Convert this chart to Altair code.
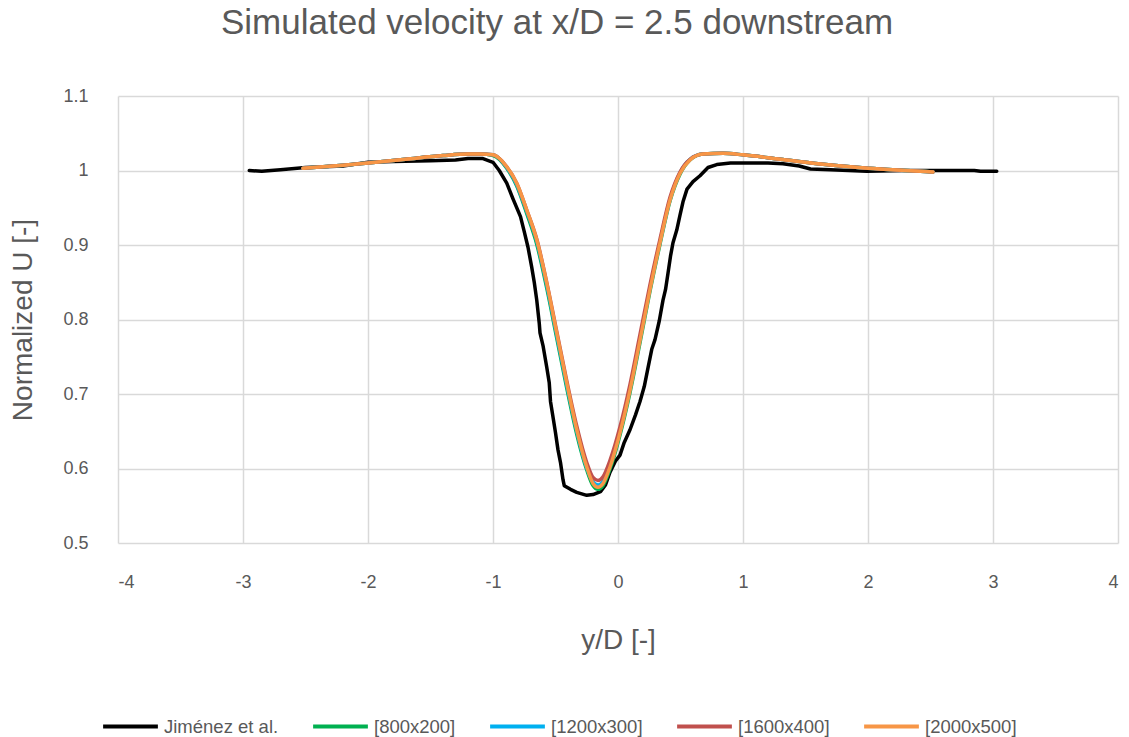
import altair as alt
import pandas as pd

# Experimental reference profile (Jiménez et al.)
EXP_Y_D = [-2.95, -2.85, -2.7, -2.5, -2.2, -2.0, -1.8, -1.5, -1.3, -1.2, -1.08, -1.0,
           -0.95, -0.89, -0.84, -0.78, -0.75, -0.72, -0.69, -0.67, -0.65, -0.63, -0.624,
           -0.6, -0.57, -0.55, -0.54, -0.52, -0.5, -0.48, -0.46, -0.44, -0.43, -0.38,
           -0.33, -0.25, -0.2, -0.14, -0.1, -0.064, -0.02, 0.016, 0.05, 0.096, 0.14,
           0.176, 0.21, 0.24, 0.27, 0.296, 0.33, 0.36, 0.38, 0.4, 0.42, 0.44, 0.47,
           0.496, 0.52, 0.552, 0.6, 0.656, 0.72, 0.79, 0.9, 1.0, 1.2, 1.32, 1.45, 1.54,
           1.7, 1.99, 2.3, 2.6, 2.85, 2.9, 3.03]
EXP_U = [1.000, 0.999, 1.001, 1.004, 1.006, 1.011, 1.012, 1.013, 1.014, 1.016, 1.016, 1.011,
         1.000, 0.983, 0.962, 0.938, 0.918, 0.897, 0.870, 0.850, 0.826, 0.795, 0.782,
         0.765, 0.736, 0.715, 0.690, 0.669, 0.648, 0.625, 0.608, 0.585, 0.577, 0.572,
         0.568, 0.564, 0.565, 0.569, 0.578, 0.595, 0.610, 0.618, 0.635, 0.652, 0.672,
         0.690, 0.710, 0.735, 0.760, 0.773, 0.798, 0.826, 0.840, 0.862, 0.885, 0.903, 0.920,
         0.940, 0.958, 0.975, 0.985, 0.993, 1.004, 1.008, 1.010, 1.010, 1.010, 1.009, 1.006, 1.002,
         1.001, 0.999, 1.000, 1.000, 1.000, 0.999, 0.999]

# Simulated profiles for the four mesh resolutions
SIM_Y_D = [-2.52, -2.2, -2.0, -1.7, -1.4, -1.2, -1.1, -1.0, -0.89, -0.81, -0.73, -0.65,
           -0.57, -0.49, -0.41, -0.33, -0.25, -0.2, -0.16, -0.12, -0.064, 0.016, 0.096,
           0.176, 0.256, 0.336, 0.416, 0.496, 0.576, 0.68, 0.84, 1.0, 1.3, 1.6, 2.0, 2.3, 2.52]
U_800 = [1.003, 1.007, 1.010, 1.015, 1.020, 1.022, 1.022, 1.020, 1.003, 0.979, 0.942, 0.901,
         0.842, 0.775, 0.708, 0.646, 0.598, 0.577, 0.572, 0.577, 0.599, 0.645, 0.702,
         0.769, 0.838, 0.901, 0.959, 0.995, 1.014, 1.022, 1.023, 1.021, 1.015, 1.009, 1.003, 1.000, 0.998]
U_1200 = [1.003, 1.007, 1.010, 1.015, 1.020, 1.022, 1.022, 1.021, 1.004, 0.981, 0.945, 0.905,
          0.846, 0.779, 0.712, 0.650, 0.601, 0.582, 0.578, 0.583, 0.604, 0.650, 0.707,
          0.774, 0.842, 0.904, 0.961, 0.997, 1.015, 1.022, 1.023, 1.021, 1.015, 1.009, 1.003, 1.000, 0.998]
U_1600 = [1.003, 1.007, 1.010, 1.015, 1.020, 1.022, 1.022, 1.021, 1.005, 0.983, 0.947, 0.908,
          0.850, 0.784, 0.718, 0.657, 0.608, 0.588, 0.584, 0.589, 0.611, 0.656, 0.713,
          0.780, 0.847, 0.908, 0.964, 0.998, 1.015, 1.022, 1.023, 1.021, 1.015, 1.009, 1.003, 1.000, 0.998]
U_2000 = [1.003, 1.007, 1.010, 1.015, 1.020, 1.022, 1.022, 1.021, 1.005, 0.983, 0.947, 0.907,
          0.849, 0.782, 0.715, 0.652, 0.602, 0.580, 0.575, 0.580, 0.602, 0.648, 0.705,
          0.772, 0.840, 0.903, 0.960, 0.996, 1.014, 1.022, 1.023, 1.021, 1.015, 1.009, 1.003, 1.000, 0.998]

SERIES = ["Jiménez et al.", "[800x200]", "[1200x300]", "[1600x400]", "[2000x500]"]
COLORS = ["#000000", "#00B050", "#00B0F0", "#C0504D", "#F79646"]

frames = [pd.DataFrame({"y_d": EXP_Y_D, "u": EXP_U, "series": SERIES[0]})]
for name, vals in zip(SERIES[1:], [U_800, U_1200, U_1600, U_2000]):
    frames.append(pd.DataFrame({"y_d": SIM_Y_D, "u": vals, "series": name}))
data = pd.concat(frames, ignore_index=True)

FONT = "Liberation Sans"
GREY = "#595959"

color = alt.Color(
    "series:N",
    scale=alt.Scale(domain=SERIES, range=COLORS),
    legend=alt.Legend(
        title=None, orient="none", direction="horizontal",
        legendX=-17, legendY=601,
        symbolType="stroke", symbolSize=3000, symbolStrokeWidth=4,
        labelFont=FONT, labelFontSize=18.5, labelColor=GREY,
        labelOffset=4, columnPadding=26, labelLimit=300, padding=0,
    ),
)

x = alt.X(
    "y_d:Q",
    title="y/D [-]",
    scale=alt.Scale(domain=[-4, 4], nice=False),
    axis=alt.Axis(
        values=[-4, -3, -2, -1, 0, 1, 2, 3, 4],
        labelExpr="datum.value < 0 ? '-' + abs(datum.value) : '' + datum.value",
        labelPadding=30, titleX=500, titleY=97, titleBaseline="middle", titleAlign="center",
    ),
)
y = alt.Y(
    "u:Q",
    title="Normalized U [-]",
    scale=alt.Scale(domain=[0.5, 1.1], nice=False, zero=False),
    axis=alt.Axis(
        values=[0.5, 0.6, 0.7, 0.8, 0.9, 1.0, 1.1], format="~g",
        labelPadding=30, titleX=-95, titleY=223.5, titleBaseline="middle",
        titleAlign="center", titleAngle=270,
    ),
)

layers = []
for name in SERIES:
    interp = "linear" if name == SERIES[0] else "monotone"
    layers.append(
        alt.Chart(data)
        .transform_filter(alt.datum.series == name)
        .mark_line(strokeWidth=3.5, interpolate=interp, strokeCap="round", strokeJoin="round")
        .encode(x=x, y=y, color=color, order="y_d:Q")
    )

chart = (
    alt.layer(*layers)
    .properties(
        width=1000, height=447,
        title=alt.TitleParams(
            "Simulated velocity at x/D = 2.5 downstream",
            font=FONT, fontSize=35, fontWeight="normal", color=GREY,
            anchor="middle", dx=-61, offset=46,
        ),
        autosize=alt.AutoSizeParams(type="none"),
        padding={"left": 118, "top": 96, "right": 11, "bottom": 194},
    )
    .configure_view(stroke=None)
    .configure_axis(
        domain=False, ticks=False, grid=True, gridColor="#D9D9D9", gridWidth=1.5,
        labelFont=FONT, labelFontSize=18, labelColor=GREY,
        titleFont=FONT, titleFontSize=28, titleFontWeight="normal", titleColor=GREY,
    )
)

chart.save("out.html", embed_options={"renderer": "svg", "actions": False})
